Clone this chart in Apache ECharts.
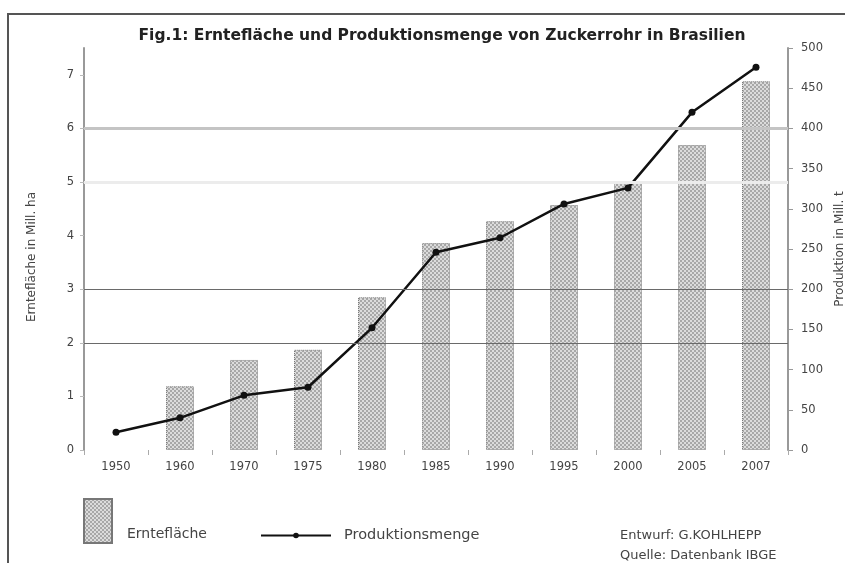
<!doctype html>
<html>
<head>
<meta charset="utf-8" />
<title>Zuckerrohr in Brasilien</title>
<script src="https://cdn.jsdelivr.net/npm/echarts@6/dist/echarts.min.js"></script>
<style>
	html, body { margin: 0; padding: 0; background: #fff; overflow: hidden; }
	#frame { position: absolute; left: 7px; top: 13px; width: 838px; height: 550px;
		border-left: 2px solid #555; border-top: 2px solid #555; }
	#main { position: absolute; left: 0; top: 0; width: 845px; height: 563px; }
</style>
</head>
<body>
<div id="frame"></div>
<div id="main"></div>
<script>
	// Daten
	var years = ['1950', '1960', '1970', '1975', '1980', '1985', '1990', '1995', '2000', '2005', '2007'];
	var area = [null, 1.19, 1.68, 1.87, 2.85, 3.86, 4.27, 4.57, 5.0, 5.69, 6.88];          // Mill. ha
	var production = [22, 40, 68, 78, 152, 246, 264, 306, 326, 420, 476];                 // Mill. t
	var gridValues = [6, 5, 3, 2];

	// Raster fuer die Balken
	var pat = document.createElement('canvas');
	pat.width = 4; pat.height = 4;
	var ctx = pat.getContext('2d');
	ctx.fillStyle = '#dcdcdc';
	ctx.fillRect(0, 0, 4, 4);
	ctx.fillStyle = '#a8a8a8';
	ctx.fillRect(0, 0, 2, 2);
	ctx.fillRect(2, 2, 2, 2);
	var barFill = { image: pat, repeat: 'repeat' };

	var gridStyles = [
		{ color: '#c4c4c4', width: 3, type: 'solid' },
		{ color: '#ececec', width: 3, type: 'solid' },
		{ color: '#6a6a6a', width: 1, type: 'solid' },
		{ color: '#6a6a6a', width: 1, type: 'solid' }
	];
	var markData = [];
	for (var i = 0; i < gridValues.length; i++) {
		markData.push({ yAxis: gridValues[i], lineStyle: gridStyles[i] });
	}

	var font = 'DejaVu Sans';
	var myChart = echarts.init(document.getElementById('main'));

	option = {
		backgroundColor: 'transparent',
		textStyle: { fontFamily: font },
		title: [{
			text: 'Fig.1: Erntefläche und Produktionsmenge von Zuckerrohr in Brasilien',
			left: 437, top: 23, textAlign: 'center',
			textStyle: { fontFamily: font, fontSize: 15.5, fontWeight: 'bold', color: '#222' }
		}, {
			// Legendentext fuer die Balken (unten am Symbol ausgerichtet)
			text: 'Erntefläche',
			left: 122, top: 522,
			textStyle: { fontFamily: font, fontSize: 14, fontWeight: 'normal', color: '#444' }
		}, {
			text: 'Entwurf: G.KOHLHEPP\nQuelle: Datenbank IBGE',
			left: 615, top: 521,
			textStyle: { fontFamily: font, fontSize: 13, fontWeight: 'normal', color: '#444', lineHeight: 20 }
		}],
		legend: [{
			data: ['Erntefläche'],
			left: 78, top: 493,
			icon: 'rect',
			itemWidth: 28, itemHeight: 44, itemGap: 0,
			formatter: function () { return ''; },
			textStyle: { fontSize: 1 }
		}, {
			data: ['Produktionsmenge'],
			left: 255, top: 523,
			itemWidth: 70, itemHeight: 7,
			textStyle: { fontFamily: font, fontSize: 14.5, color: '#444', padding: [0, 0, 0, 8] }
		}],
		grid: { left: 84, right: 57, top: 48, bottom: 113, outerBoundsMode: 'none' },
		xAxis: [{
			type: 'category',
			data: years,
			axisLine: { show: false },
			axisTick: { show: true, length: 5, lineStyle: { color: '#aaa' } },
			axisLabel: { fontFamily: font, fontSize: 11.5, color: '#444', margin: 11 }
		}],
		yAxis: [{
			type: 'value',
			min: 0, max: 7.5, interval: 1,
			name: 'Erntefläche in Mill. ha',
			nameLocation: 'middle', nameRotate: 90, nameGap: 46,
			nameTextStyle: { fontFamily: font, fontSize: 12, color: '#444', padding: [0, 16, 0, 0] },
			axisLine: { show: true, lineStyle: { color: '#999', width: 2 } },
			axisTick: { show: true, length: 4, lineStyle: { color: '#bbb' } },
			axisLabel: { fontFamily: font, fontSize: 11.5, color: '#444', margin: 10, showMaxLabel: false },
			splitLine: { show: false }
		}, {
			type: 'value',
			min: 0, max: 500, interval: 50,
			name: 'Produktion in Mill. t',
			nameLocation: 'middle', nameRotate: 90, nameGap: 46,
			nameTextStyle: { fontFamily: font, fontSize: 12, color: '#444' },
			axisLine: { show: true, lineStyle: { color: '#999', width: 2 } },
			axisTick: { show: true, length: 5, lineStyle: { color: '#999' } },
			axisLabel: { fontFamily: font, fontSize: 11.5, color: '#444', margin: 13 },
			splitLine: { show: false }
		}],
		series: [{
			name: 'Erntefläche',
			type: 'bar',
			yAxisIndex: 0,
			barWidth: 28,
			data: area,
			itemStyle: { color: barFill, borderColor: '#777', borderWidth: 1, borderType: 'dotted' },
			markLine: {
				silent: true,
				symbol: 'none',
				label: { show: false },
				data: markData
			}
		}, {
			name: 'Produktionsmenge',
			type: 'line',
			yAxisIndex: 1,
			data: production,
			symbol: 'circle',
			symbolSize: 7,
			lineStyle: { color: '#111', width: 2.5 },
			itemStyle: { color: '#111' }
		}],
		animation: false
	};

	myChart.setOption(option);
</script>
</body>
</html>
